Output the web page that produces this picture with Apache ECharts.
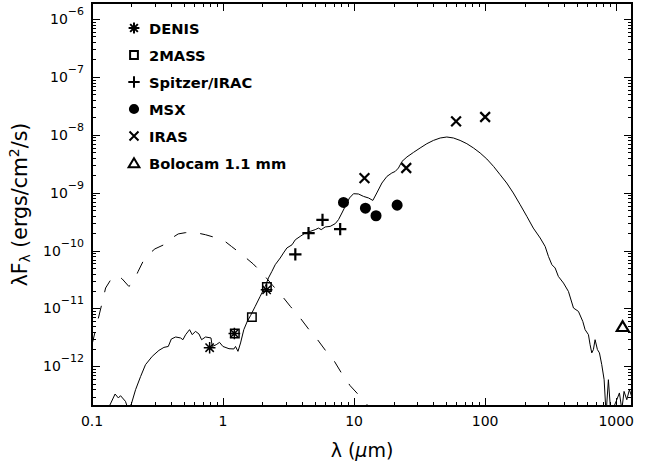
<!DOCTYPE html>
<html>
<head>
<meta charset="utf-8">
<script src="https://cdn.jsdelivr.net/npm/echarts@6.0.0/dist/echarts.min.js"></script>
<style>
html,body{margin:0;padding:0;background:#fff;}
#chart{width:660px;height:468px;}
</style>
</head>
<body>
<div id="chart"></div>
<script>
// ---------------- data ----------------
const denisX = [0.79, 1.22, 2.15];
const denisY = [2.1e-12, 3.7e-12, 2.1e-11];

const twomassX = [1.23, 1.66, 2.16];
const twomassY = [3.7e-12, 7.1e-12, 2.35e-11];

const iracX = [3.56, 4.49, 5.74, 7.83];
const iracY = [8.6e-11, 2.0e-10, 3.4e-10, 2.35e-10];

const msxX = [8.3, 12.2, 14.7, 21.3];
const msxY = [6.8e-10, 5.4e-10, 4.0e-10, 6.1e-10];

const irasX = [12, 25, 60, 100];
const irasY = [1.79e-9, 2.67e-9, 1.70e-8, 2.03e-8];

const boloX = [1120];
const boloY = [4.9e-12];

// model SED (solid)
const modelX = [0.132, 0.150, 0.159, 0.165, 0.180, 0.189, 0.200, 0.215, 0.235, 0.256,
  0.288, 0.324, 0.354, 0.382, 0.403, 0.435, 0.474, 0.494, 0.518, 0.555,
  0.582, 0.616, 0.655, 0.686, 0.735, 0.809, 0.827, 0.887, 0.940, 0.998,
  1.11, 1.21, 1.245, 1.30, 1.36, 1.44, 1.53, 1.62, 1.76, 1.92,
  2.10, 2.22, 2.36, 2.50, 2.73, 2.89, 3.07, 3.36, 3.56, 3.88,
  4.24, 4.63, 5.05, 5.35, 5.61, 6.02, 6.57, 7.18, 7.60, 8.07,
  8.55, 9.22, 9.90, 10.8, 11.8, 12.9, 13.9, 14.9, 16.3, 17.8,
  19.4, 20.6, 21.8, 23.2, 25.3, 28.4, 31.9, 35.9, 40.3, 45.4,
  51.0, 57.3, 64.4, 72.5, 81.5, 91.6, 103, 116, 130, 146,
  164, 185, 208, 233, 263, 287, 304, 323, 342, 362,
  396, 432, 472, 515, 556, 579, 614, 632, 651, 670,
  690, 719, 745, 776, 809, 837, 872, 910, 1011, 1058,
  1104, 1148, 1205, 1261, 1320];
const modelY = [1.8e-13, 3.33e-13, 2.85e-13, 3.12e-13, 2.49e-13, 1.8e-13, 2.27e-13, 3.96e-13, 6.71e-13, 1.07e-12,
  1.49e-12, 1.89e-12, 2.13e-12, 2.21e-12, 2.97e-12, 3.22e-12, 3.10e-12, 2.89e-12, 3.53e-12, 4.31e-12,
  3.53e-12, 4.03e-12, 3.63e-12, 2.89e-12, 3.22e-12, 3.10e-12, 2.21e-12, 2.37e-12, 2.60e-12, 2.21e-12,
  2.02e-12, 2.00e-12, 2.21e-12, 1.82e-12, 2.54e-12, 4.31e-12, 5.98e-12, 7.52e-12, 1.09e-11, 1.62e-11,
  2.41e-11, 3.37e-11, 4.38e-11, 5.70e-11, 7.45e-11, 9.09e-11, 1.11e-10, 1.26e-10, 1.54e-10, 1.76e-10,
  2.01e-10, 2.15e-10, 2.30e-10, 2.45e-10, 2.30e-10, 2.56e-10, 2.62e-10, 2.92e-10, 3.42e-10, 4.46e-10,
  5.79e-10, 8.10e-10, 9.61e-10, 9.50e-10, 8.63e-10, 8.10e-10, 7.36e-10, 9.89e-10, 1.47e-9, 1.91e-9,
  2.19e-9, 2.33e-9, 2.67e-9, 3.47e-9, 4.14e-9, 4.97e-9, 5.92e-9, 7.02e-9, 8.00e-9, 8.81e-9,
  9.16e-9, 8.81e-9, 8.00e-9, 7.02e-9, 5.92e-9, 4.85e-9, 3.82e-9, 2.84e-9, 2.05e-9, 1.47e-9,
  9.89e-10, 6.21e-10, 3.90e-10, 2.45e-10, 1.65e-10, 1.18e-10, 7.94e-11, 5.70e-11, 5.01e-11, 3.58e-11,
  2.75e-11, 1.97e-11, 1.02e-11, 8.91e-12, 5.98e-12, 4.31e-12, 3.53e-12, 2.37e-12, 1.71e-12, 1.95e-12,
  2.89e-12, 1.95e-12, 1.71e-12, 1.07e-12, 5.89e-13, 1.5e-13, 5.89e-13, 1.5e-13, 2.66e-13, 3.48e-13,
  1.8e-13, 3.70e-13, 2.66e-13, 3.96e-13, 2.9e-13];

// stellar photosphere (dashed)
const starX = [0.1, 0.1065, 0.120, 0.127, 0.139, 0.147, 0.156, 0.170, 0.191, 0.203,
  0.214, 0.225, 0.249, 0.274, 0.302, 0.369, 0.410, 0.455, 0.515, 0.575,
  0.647, 0.735, 0.931, 1.04, 1.16, 1.40, 1.70, 1.99, 2.40, 2.81,
  3.26, 3.83, 4.49, 5.26, 6.12, 7.08, 8.07, 9.33, 11.1, 12.9, 15.3];
const starY = [2.37e-12, 4.31e-12, 1.31e-11, 2.26e-11, 3.14e-11, 3.58e-11, 3.76e-11, 3.24e-11, 2.41e-11, 2.68e-11,
  3.40e-11, 4.38e-11, 6.97e-11, 8.85e-11, 1.07e-10, 1.32e-10, 1.67e-10, 1.94e-10, 2.04e-10, 2.06e-10,
  2.00e-10, 1.88e-10, 1.61e-10, 1.43e-10, 1.18e-10, 8.49e-11, 5.87e-11, 4.10e-11, 2.48e-11, 1.66e-11,
  1.09e-11, 7.13e-12, 4.43e-12, 2.89e-12, 1.82e-12, 1.22e-12, 7.48e-13, 4.64e-13, 3.03e-13, 2.04e-13, 1.30e-13];

const legendNames = ['DENIS', '2MASS', 'Spitzer/IRAC', 'MSX', 'IRAS', 'Bolocam 1.1 mm'];

// axis ranges
const X_MIN = 0.1, X_MAX = 1320;
const Y_MIN = 2.07e-13, Y_MAX = 1.89e-6;

// ---------------- helpers ----------------
const zip = (xs, ys) => xs.map((x, i) => [x, ys[i]]);
const FONT = 'DejaVu Sans';
const PAD = 'M-10,-10M10,10';
const SYM = {
  asterisk: 'path://' + PAD + 'M0,-9L0,9M-9,0L9,0M-6.4,-6.4L6.4,6.4M-6.4,6.4L6.4,-6.4',
  square: 'path://' + PAD + 'M-6.5,-6.5L6.5,-6.5L6.5,6.5L-6.5,6.5Z',
  plus: 'path://' + PAD + 'M0,-9.5L0,9.5M-9.5,0L9.5,0',
  circle: 'path://' + PAD + 'M-8.5,0A8.5,8.5 0 1,0 8.5,0A8.5,8.5 0 1,0 -8.5,0Z',
  cross: 'path://' + PAD + 'M-7.5,-7.5L7.5,7.5M-7.5,7.5L7.5,-7.5',
  triangle: 'path://' + PAD + 'M0,-8L9,7L-9,7Z'
};

// tick positions (log decades with 2..9 minor ticks)
const xTickData = [];
for (let e = -1; e <= 3; e++) for (let m = 1; m <= 9; m++) {
  const v = m * Math.pow(10, e);
  if (v >= X_MIN && v <= X_MAX) xTickData.push([v, Y_MIN, m === 1 ? 1 : 0]);
}
const yTickData = [];
for (let e = -13; e <= -6; e++) for (let m = 1; m <= 9; m++) {
  const v = m * Math.pow(10, e);
  if (v >= Y_MIN && v <= Y_MAX) yTickData.push([X_MIN, v, m === 1 ? 1 : 0]);
}
const tickLine = (x1, y1, x2, y2) => ({type: 'line', silent: true,
  shape: {x1, y1, x2, y2}, style: {stroke: '#000', lineWidth: 1}});

function scatter(name, xs, ys, symbol, fill, bw) {
  return {
    name, type: 'scatter', data: zip(xs, ys), symbol, symbolSize: 13,
    itemStyle: {color: fill, borderColor: '#000', borderWidth: bw, opacity: 1},
    emphasis: {disabled: true}, z: 5
  };
}

const chart = echarts.init(document.getElementById('chart'), null, {renderer: 'svg'});

const option = {
  animation: false,
  backgroundColor: '#fff',
  grid: {left: 92, right: 28, top: 3, bottom: 62, show: true, borderColor: '#000', borderWidth: 2,
         backgroundColor: 'transparent', outerBoundsMode: 'none'},
  legend: {
    orient: 'vertical', left: 122, top: 15, itemWidth: 20, itemHeight: 12, itemGap: 11,
    selectedMode: false, data: legendNames,
    textStyle: {fontFamily: FONT, fontWeight: 'bold', fontSize: 14.7, color: '#000', lineHeight: 16}
  },
  xAxis: {
    type: 'log', logBase: 10, min: X_MIN, max: X_MAX,
    axisLine: {show: false}, axisTick: {show: false}, splitLine: {show: false}, minorTick: {show: false},
    axisLabel: {
      margin: 8, fontFamily: FONT, fontSize: 14, color: '#000',
      formatter: v => {
        const e = Math.log10(v), r = Math.round(e);
        if (Math.abs(e - r) > 1e-6) return '';
        return r < 0 ? '0.1' : String(Math.round(Math.pow(10, r)));
      }
    },
    name: '{a|λ (}{mu|μ}{a|m)}', nameLocation: 'middle', nameGap: 34,
    nameTextStyle: {rich: {
      a: {fontFamily: FONT, fontSize: 19, color: '#000'},
      mu: {fontFamily: FONT, fontSize: 19, fontStyle: 'italic', color: '#000'}
    }}
  },
  yAxis: {
    type: 'log', logBase: 10, min: Y_MIN, max: Y_MAX,
    axisLine: {show: false}, axisTick: {show: false}, splitLine: {show: false}, minorTick: {show: false},
    axisLabel: {
      margin: 8, color: '#000',
      formatter: v => {
        const e = Math.log10(v), r = Math.round(e);
        if (Math.abs(e - r) > 1e-6) return '';
        return '{b|10}{s|\u2212' + (-r) + '}';
      },
      rich: {
        b: {fontFamily: FONT, fontSize: 14, lineHeight: 26, color: '#000'},
        s: {fontFamily: FONT, fontSize: 11, lineHeight: 12, verticalAlign: 'top', color: '#000'}
      }
    },
    name: '{a|λF}{sub|λ}{a| (ergs/cm}{sup|2}{a|/s)}', nameLocation: 'middle', nameGap: 49, nameRotate: 90,
    nameTextStyle: {rich: {
      a: {fontFamily: FONT, fontSize: 20.5, lineHeight: 25, color: '#000'},
      sub: {fontFamily: FONT, fontSize: 14, lineHeight: 15, verticalAlign: 'bottom', color: '#000'},
      sup: {fontFamily: FONT, fontSize: 14, lineHeight: 15, verticalAlign: 'top', color: '#000'}
    }}
  },
  series: [
    {name: 'model', type: 'line', data: zip(modelX, modelY), showSymbol: false, symbol: 'none',
     lineStyle: {color: '#000', width: 1}, clip: true, silent: true, z: 3},
    {name: 'photosphere', type: 'line', data: zip(starX, starY), showSymbol: false, symbol: 'none',
     lineStyle: {color: '#000', width: 1, type: [13, 14]}, clip: true, silent: true, z: 3},
    scatter('DENIS', denisX, denisY, SYM.asterisk, 'rgba(0,0,0,0)', 1.5),
    scatter('2MASS', twomassX, twomassY, SYM.square, 'rgba(0,0,0,0)', 1.5),
    scatter('Spitzer/IRAC', iracX, iracY, SYM.plus, 'rgba(0,0,0,0)', 2.2),
    scatter('MSX', msxX, msxY, SYM.circle, '#000', 0),
    scatter('IRAS', irasX, irasY, SYM.cross, 'rgba(0,0,0,0)', 2.2),
    scatter('Bolocam 1.1 mm', boloX, boloY, SYM.triangle, 'rgba(0,0,0,0)', 2.2),
    {name: 'xticks', type: 'custom', data: xTickData, encode: {x: 0, y: 1}, silent: true, clip: false, z: 6,
     renderItem: (params, api) => {
       const cs = params.coordSys;
       const x = Math.round(api.coord([api.value(0), Y_MIN])[0]) + 0.5;
       const len = api.value(2) ? 8 : 4;
       const b = cs.y + cs.height, t = cs.y;
       return {type: 'group', children: [tickLine(x, b, x, b - len), tickLine(x, t, x, t + len)]};
     }},
    {name: 'yticks', type: 'custom', data: yTickData, encode: {x: 0, y: 1}, silent: true, clip: false, z: 6,
     renderItem: (params, api) => {
       const cs = params.coordSys;
       const y = Math.round(api.coord([X_MIN, api.value(1)])[1]) + 0.5;
       const len = api.value(2) ? 8 : 4;
       const l = cs.x, r = cs.x + cs.width;
       return {type: 'group', children: [tickLine(l, y, l + len, y), tickLine(r, y, r - len, y)]};
     }}
  ]
};
chart.setOption(option);
</script>
</body>
</html>
